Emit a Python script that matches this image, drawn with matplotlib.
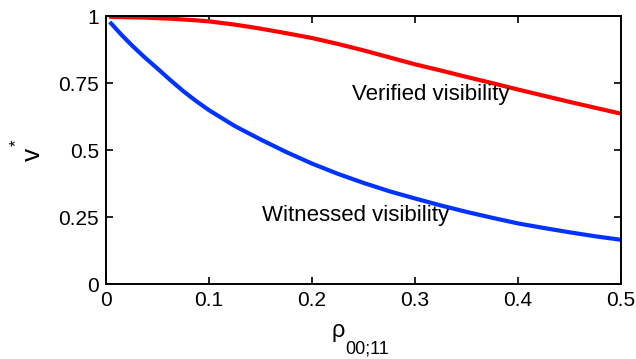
import numpy as np
import matplotlib.pyplot as plt

plt.rcParams['font.family'] = ['Liberation Sans', 'DejaVu Sans']

# values
rho = [0.005, 0.015, 0.025, 0.0375, 0.05, 0.0625, 0.075, 0.0875, 0.1, 0.125, 0.15,
       0.175, 0.2, 0.225, 0.25, 0.275, 0.3, 0.325, 0.35, 0.375, 0.4, 0.425, 0.45,
       0.475, 0.5]
verified = [0.997, 0.996, 0.995, 0.994, 0.992, 0.990, 0.987, 0.984, 0.980, 0.968, 0.953,
            0.936, 0.918, 0.896, 0.872, 0.846, 0.820, 0.797, 0.773, 0.750, 0.726,
            0.703, 0.680, 0.658, 0.636]
witnessed = [0.972, 0.930, 0.891, 0.846, 0.804, 0.761, 0.720, 0.683, 0.649, 0.590, 0.540,
             0.493, 0.450, 0.412, 0.378, 0.347, 0.320, 0.294, 0.270, 0.248, 0.227,
             0.210, 0.194, 0.179, 0.166]

xticks = [0, 0.1, 0.2, 0.3, 0.4, 0.5]
xticklabels = ['0', '0.1', '0.2', '0.3', '0.4', '0.5']
yticks = [0, 0.25, 0.5, 0.75, 1]
yticklabels = ['0', '0.25', '0.5', '0.75', '1']

W, H = 636, 359
fig = plt.figure(figsize=(W / 100, H / 100), dpi=100)
ax = fig.add_axes([0.1667, 0.208, 0.8097, 0.7474])

ax.plot(rho, verified, color='#ff0000', lw=3)
ax.plot(rho, witnessed, color='#0033ff', lw=3)

ax.text(0.239, 0.708, 'Verified visibility', fontsize=16, va='center')
ax.text(0.151, 0.258, 'Witnessed visibility', fontsize=16, va='center')

ax.set_xlim(0, 0.5)
ax.set_ylim(0, 1)
ax.set_xticks(xticks)
ax.set_xticklabels(xticklabels)
ax.set_yticks(yticks)
ax.set_yticklabels(yticklabels)
ax.tick_params(direction='in', top=True, right=True, length=5, width=1.2,
               labelsize=15, pad=5)
for s in ax.spines.values():
    s.set_linewidth(1.4)

# x label: rho with a low subscript (MATLAB tex look)
fig.text(331 / W, 1 - 337 / H, 'ρ', fontsize=17, ha='left', va='baseline')
fig.text(345 / W, 1 - 353 / H, '00;11', fontsize=13, ha='left', va='baseline')

# y label: v*
fig.text(33 / W, 1 - 154 / H, 'v', fontsize=19, rotation=90, ha='center', va='center')
fig.text(16 / W, 1 - 143 / H, '*', fontsize=12, rotation=90, ha='center', va='center')

fig.savefig('out.png', dpi=100)
